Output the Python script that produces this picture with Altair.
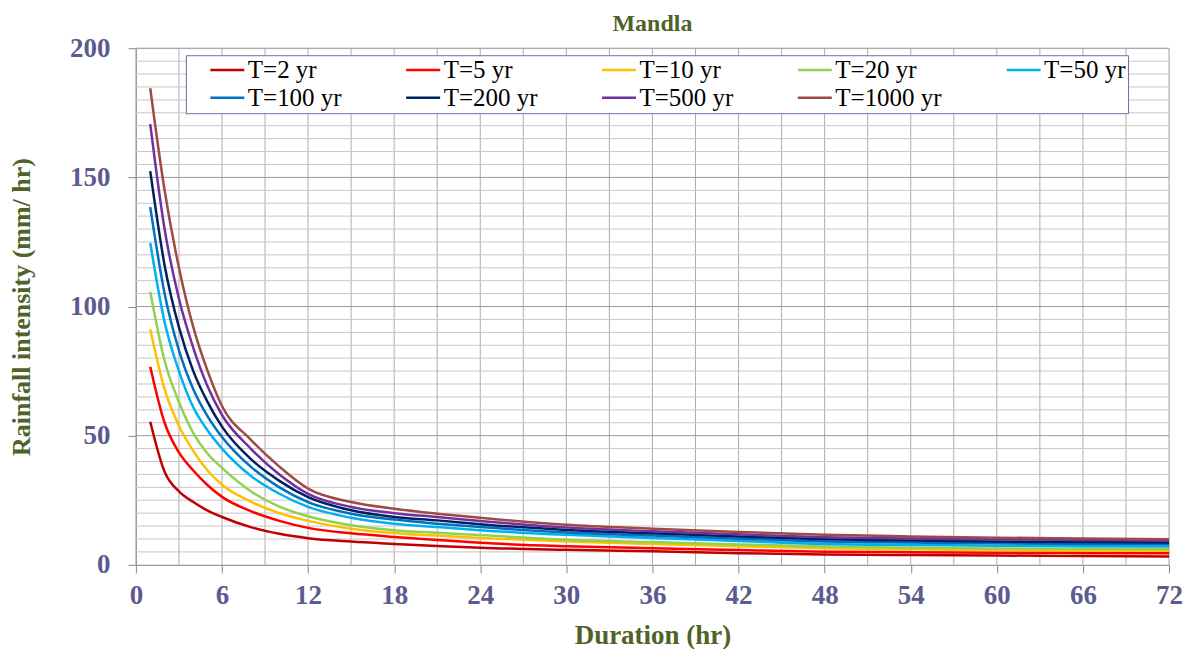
import altair as alt
import pandas as pd

durations = [1, 2, 3, 4, 5, 6, 8, 10, 12, 15, 18, 21, 24, 30, 36, 42, 48, 54, 60, 66, 72]

t2    = [55.4, 36.0, 28.4, 24.3, 21.0, 18.5, 14.6, 12.0, 10.3, 9.0, 8.1, 7.3, 6.6, 5.8, 5.2, 4.5, 4.0, 3.8, 3.6, 3.4, 3.2]
t5    = [76.7, 55.0, 43.5, 36.5, 30.8, 26.3, 20.8, 17.0, 14.3, 12.2, 10.8, 9.6, 8.5, 7.2, 6.4, 5.7, 5.1, 4.9, 4.7, 4.6, 4.5]
t10   = [91.2, 68.0, 53.8, 44.0, 36.5, 31.0, 24.5, 20.0, 17.0, 14.0, 12.3, 11.3, 10.4, 9.0, 8.1, 7.2, 6.4, 6.0, 5.7, 5.5, 5.4]
t20   = [105.7, 79.0, 63.0, 51.0, 43.0, 37.5, 28.5, 22.5, 18.8, 15.3, 13.4, 12.4, 11.5, 9.7, 8.8, 7.9, 7.1, 6.6, 6.3, 6.2, 6.1]
t50   = [124.6, 94.0, 75.0, 61.0, 52.0, 45.0, 34.5, 27.5, 22.4, 18.2, 15.9, 14.6, 13.4, 11.6, 10.4, 9.2, 8.1, 7.7, 7.4, 7.2, 7.1]
t100  = [138.5, 105.0, 83.0, 68.0, 57.5, 49.5, 38.0, 30.0, 24.3, 19.8, 17.5, 15.9, 14.6, 12.5, 11.3, 10.1, 9.0, 8.6, 8.3, 8.1, 8.0]
t200  = [152.4, 116.0, 92.0, 75.0, 63.0, 53.5, 41.0, 32.5, 26.2, 21.1, 18.5, 17.2, 15.7, 13.5, 12.2, 11.0, 9.9, 9.4, 9.0, 8.8, 8.6]
t500  = [170.6, 130.0, 103.0, 84.0, 69.0, 58.0, 45.0, 35.0, 27.5, 22.4, 20.0, 18.5, 17.0, 14.4, 13.0, 11.8, 10.7, 10.2, 9.8, 9.6, 9.4]
t1000 = [184.5, 145.0, 115.0, 92.0, 75.0, 61.5, 48.5, 38.0, 29.5, 24.3, 21.7, 19.8, 18.2, 15.5, 14.0, 12.7, 11.6, 11.0, 10.5, 10.2, 9.9]

series_names = ["T=2 yr", "T=5 yr", "T=10 yr", "T=20 yr", "T=50 yr",
                "T=100 yr", "T=200 yr", "T=500 yr", "T=1000 yr"]
series_values = [t2, t5, t10, t20, t50, t100, t200, t500, t1000]
series_colors = ["#C00000", "#FF0000", "#FFC000", "#92D050", "#00B0F0",
                 "#0070C0", "#002060", "#7030A0", "#9E4A45"]

x_ticks = list(range(0, 73, 6))
y_ticks = list(range(0, 201, 50))
x_grid = list(range(0, 73, 3))
y_grid_minor = [v for v in range(0, 201, 5) if v % 50 != 0]
y_grid_major = list(range(50, 201, 50))

rows = []
for name, vals in zip(series_names, series_values):
    for d, v in zip(durations, vals):
        rows.append({"Duration": d, "Intensity": v, "Series": name})
df = pd.DataFrame(rows)

serif = "Liberation Serif, Times New Roman, serif"
label_col = "#5B5B8F"
title_col = "#4F6228"

xs = alt.Scale(domain=[0, 72], nice=False, zero=True)
ys = alt.Scale(domain=[0, 200], nice=False, zero=True)

xaxis = alt.Axis(values=x_ticks, title="Duration (hr)", grid=False, labelFlush=False,
                 labelFont=serif, labelFontSize=27, labelFontWeight="bold",
                 labelColor=label_col, labelPadding=10, tickSize=8,
                 tickColor="#888888", domainColor="#888888",
                 titleFont=serif, titleFontSize=27, titleFontWeight="bold",
                 titleColor=title_col, titlePadding=14)
yaxis = alt.Axis(values=y_ticks, title="Rainfall intensity (mm/ hr)", grid=False, labelFlush=False,
                 labelFont=serif, labelFontSize=27, labelFontWeight="bold",
                 labelColor=label_col, labelPadding=18, tickSize=8,
                 tickColor="#888888", domainColor="#888888",
                 titleFont=serif, titleFontSize=26, titleFontWeight="bold",
                 titleColor=title_col, titlePadding=35)

vgrid = alt.Chart(pd.DataFrame({"Duration": x_grid})).mark_rule(
    color="#ADADAD", strokeWidth=1).encode(
    x=alt.X("Duration:Q", scale=xs, axis=xaxis))
hgrid_minor = alt.Chart(pd.DataFrame({"Intensity": y_grid_minor})).mark_rule(
    color="#C6C6C6", strokeWidth=1).encode(
    y=alt.Y("Intensity:Q", scale=ys, axis=yaxis))
hgrid_major = alt.Chart(pd.DataFrame({"Intensity": y_grid_major})).mark_rule(
    color="#9A9A9A", strokeWidth=1).encode(
    y=alt.Y("Intensity:Q", scale=ys, axis=yaxis))

legend = alt.Legend(orient="none", legendX=50, legendY=7, columns=5,
                    direction="horizontal", title=None,
                    symbolType="M1,0L4.4,0", symbolSize=400, symbolStrokeWidth=2.5,
                    labelFont=serif, labelFontSize=25, labelColor="black",
                    labelOffset=35, columnPadding=42, rowPadding=2,
                    gridAlign="each", padding=2, strokeColor="#8064A2",
                    fillColor="white", labelLimit=400)

lines = alt.Chart(df).mark_line(strokeWidth=2.5, interpolate="monotone").encode(
    x=alt.X("Duration:Q", scale=xs, axis=xaxis),
    y=alt.Y("Intensity:Q", scale=ys, axis=yaxis),
    color=alt.Color("Series:N", scale=alt.Scale(domain=series_names, range=series_colors),
                    sort=series_names, legend=legend),
    detail="Series:N",
)

chart = alt.layer(vgrid, hgrid_minor, hgrid_major, lines).properties(
    width=1034, height=517,
    padding={"top": 4, "left": 0, "right": 0, "bottom": 0},
    title=alt.TitleParams("Mandla", font=serif, fontSize=24, fontWeight="bold",
                          color=title_col, offset=-2, anchor="middle"),
    background="white",
).configure_view(stroke=None).configure(font=serif)

chart.save("out.html", embed_options={"renderer": "svg", "actions": False})
